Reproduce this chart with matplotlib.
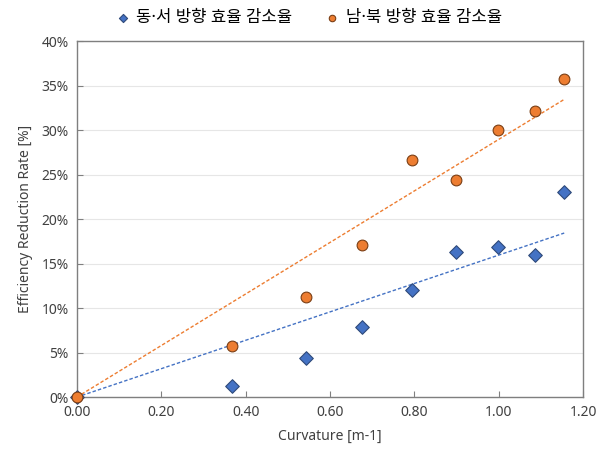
import numpy as np
import matplotlib
matplotlib.use("Agg")
import matplotlib.pyplot as plt
from matplotlib.ticker import FuncFormatter

plt.rcParams['font.family'] = ['Noto Sans', 'Noto Sans CJK KR', 'DejaVu Sans']

# data
curvature = [0.0, 0.367, 0.542, 0.677, 0.795, 0.899, 0.999, 1.086, 1.155]
ew_rate = [0.0, 1.2, 4.4, 7.9, 12.0, 16.3, 16.9, 16.0, 23.0]   # 동·서
ns_rate = [0.0, 5.8, 11.2, 17.1, 26.7, 24.4, 30.0, 32.2, 35.7]  # 남·북
ew_label = "동·서 방향 효율 감소율"
ns_label = "남·북 방향 효율 감소율"

blue = "#4472C4"
orange = "#ED7D31"


def fit_origin(x, y):
    # linear trend forced through zero, like the excel trendline
    x = np.asarray(x)
    y = np.asarray(y)
    return (x * y).sum() / (x * x).sum()


fig = plt.figure(figsize=(6.0, 4.57), dpi=100)
ax = fig.add_axes([0.128, 0.131, 0.844, 0.779])

xs = np.array([0.0, max(curvature)])
ax.plot(xs, fit_origin(curvature, ew_rate) * xs, color=blue, lw=1.0,
        ls=(0, (2.5, 1.5)), zorder=2)
ax.plot(xs, fit_origin(curvature, ns_rate) * xs, color=orange, lw=1.0,
        ls=(0, (2.5, 1.5)), zorder=2)

ax.scatter(curvature, ew_rate, marker="D", s=48, color=blue,
           edgecolor="#2F4A7A", linewidth=0.8, zorder=3, label=ew_label,
           clip_on=False)
ax.scatter(curvature, ns_rate, marker="o", s=60, color=orange,
           edgecolor="#7A3E14", linewidth=0.8, zorder=3, label=ns_label,
           clip_on=False)

ax.set_xlim(0, 1.2)
ax.set_ylim(0, 40)
ax.set_xticks(np.arange(0, 1.21, 0.2))
ax.set_yticks(np.arange(0, 41, 5))
ax.xaxis.set_major_formatter(FuncFormatter(lambda v, p: f"{v:.2f}"))
ax.yaxis.set_major_formatter(FuncFormatter(lambda v, p: f"{v:.0f}%"))
ax.grid(axis="y", color="#E6E6E6", lw=0.8, zorder=0)
ax.set_axisbelow(True)
ax.tick_params(direction="in", length=4, color="#808080", labelsize=10,
               labelcolor="#404040", pad=6)
for s in ax.spines.values():
    s.set_color("#7F7F7F")
    s.set_linewidth(1.0)

ax.set_xlabel("Curvature [m-1]", fontsize=10, color="#404040", labelpad=6)
ax.set_ylabel("Efficiency Reduction Rate [%]", fontsize=10, color="#404040",
              labelpad=6)

fig.legend(loc="upper center", bbox_to_anchor=(0.515, 1.01), ncol=2,
           frameon=False, handlelength=0.8, handletextpad=0.4,
           columnspacing=2.0, markerscale=0.6, prop={'size': 12})

fig.savefig("out.png", dpi=100)
